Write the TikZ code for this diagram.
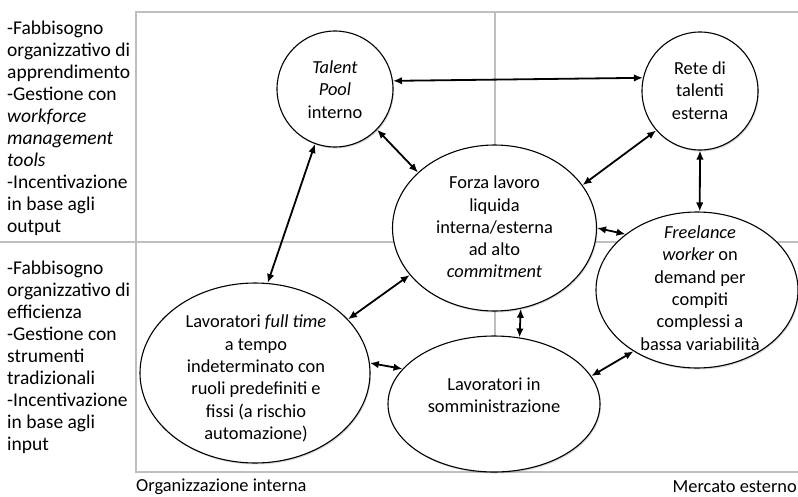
\documentclass[tikz,border=0pt]{standalone}
\usepackage{fontspec}
\setmainfont{Carlito}
\usetikzlibrary{shapes.geometric,arrows.meta,shadows}

\begin{document}
\begin{tikzpicture}[x=1pt,y=-1pt,
  frameline/.style={draw=black!25, line width=1.2pt},
  bubble/.style={ellipse, draw=black, line width=1.1pt, fill=white, inner sep=0pt,
    drop shadow={shadow xshift=1pt, shadow yshift=-1.5pt, opacity=0.3}},
  bubbletext/.style={align=center, inner sep=0pt, font=\fontsize{18.4}{22.3}\selectfont},
  sidetext/.style={align=left, anchor=west, inner sep=0pt, font=\fontsize{19.5}{22}\selectfont},
  axistext/.style={inner sep=0pt, font=\fontsize{18.4}{22}\selectfont},
  link/.style={{Latex[length=9pt,width=7.5pt]}-{Latex[length=9pt,width=7.5pt]}, line width=1.8pt}]

\useasboundingbox (0,0) rectangle (798,496);

% quadrant frame
\draw[frameline] (800,12) -- (136,12) -- (136,472) -- (800,472);
\draw[frameline] (495,12) -- (495,472);
\draw[frameline] (0,242) -- (800,242);

% side descriptions
\node[sidetext] (upper) at (7,128.5) {-Fabbisogno\\organizzativo di\\apprendimento\\-Gestione con\\\textit{workforce}\\\textit{management}\\\textit{tools}\\-Incentivazione\\in base agli\\output};
\node[sidetext] (lower) at (7,357.5) {-Fabbisogno\\organizzativo di\\efficienza\\-Gestione con\\strumenti\\tradizionali\\-Incentivazione\\in base agli\\input};

% axis captions
\node[axistext, anchor=west] (intern) at (136,487) {Organizzazione interna};
\node[axistext, anchor=east] (extern) at (797,487) {Mercato esterno};

% workforce groups
\node[bubble, minimum width=116pt, minimum height=116pt] (tp) at (335,89) {};
\node[bubble, minimum width=116pt, minimum height=118pt] (re) at (700,91) {};
\node[bubble, minimum width=204pt, minimum height=166pt] (fo) at (494.5,228) {};
\node[bubble, minimum width=202pt, minimum height=156pt] (fl) at (697,290) {};
\node[bubble, minimum width=230pt, minimum height=180pt] (ft) at (255,373) {};
\node[bubble, minimum width=212pt, minimum height=136pt] (so) at (494,404) {};

\node[bubbletext] (tpt) at (335,89.5) {\textit{Talent}\\\textit{Pool}\\interno};
\node[bubbletext] (ret) at (700,90.5) {Rete di\\talenti\\esterna};
\node[bubbletext] (fot) at (494.5,227) {Forza lavoro\\liquida\\interna/esterna\\ad alto\\\textit{commitment}};
\node[bubbletext] (flt) at (700,288) {\textit{Freelance}\\\textit{worker} on\\demand per\\compiti\\complessi a\\bassa variabilità};
\node[bubbletext] (ftt) at (256,378.5) {Lavoratori \textit{full time}\\a tempo\\indeterminato con\\ruoli predefiniti e\\fissi (a rischio\\automazione)};
\node[bubbletext] (sot) at (494,395) {Lavoratori in\\somministrazione};

% exchanges between groups
\draw[link] (tp.8) -- (re.167);
\draw[link] (tp.-44) -- (fo.144);
\draw[link] (re.222) -- (fo.26);
\draw[link] (tp.250) -- (ft.82);
\draw[link] (re.270) -- (fl.88);
\draw[link] (fo.0) -- (fl.142);
\draw[link] (fo.209) -- (ft.30);
\draw[link] (fo.-72) -- (so.69);
\draw[link] (ft.5) -- (so.159);
\draw[link] (so.16) -- (fl.224);

\end{tikzpicture}
\end{document}
